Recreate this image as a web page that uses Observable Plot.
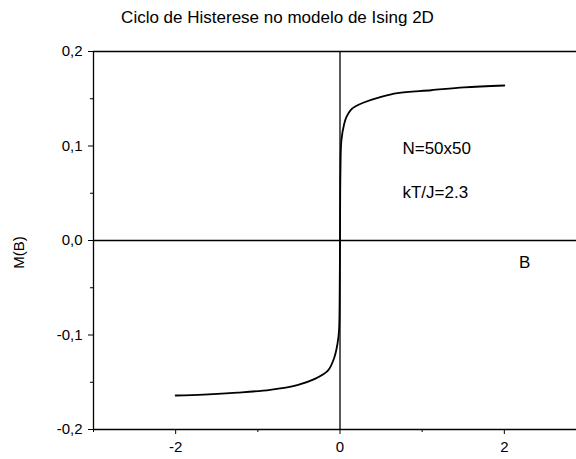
<!DOCTYPE html>
<html>
<head>
<meta charset="utf-8">
<script src="https://cdn.jsdelivr.net/npm/d3@7"></script>
<script src="https://cdn.jsdelivr.net/npm/@observablehq/plot@0.6"></script>
<style>
  html, body { margin: 0; padding: 0; background: #fff; overflow: hidden; }
  #wrap { position: relative; width: 576px; height: 459px; overflow: hidden; font-family: "Liberation Sans", Arial, sans-serif; }
  #title { position: absolute; left: 0; top: 9px; width: 555px; text-align: center; font-size: 17px; color: #000; line-height: 1; }
  #chart { position: absolute; left: 0; top: 0; width: 586px; }
  #chart svg { max-width: none !important; }
  #chart g[aria-label$="tick label"] text { font-size: 15px; }
</style>
</head>
<body>
<div id="wrap">
  <div id="chart"></div>
  <div id="title">Ciclo de Histerese no modelo de Ising 2D</div>
</div>
<script>
const B = [-2, -1.66, -1.25, -0.85, -0.52, -0.32, -0.15, -0.07, -0.03, -0.012, -0.005, 0, 0.005, 0.017, 0.05, 0.08, 0.13, 0.19, 0.29, 0.5, 0.7, 1.11, 1.51, 2.0];
const M = [-0.164, -0.163, -0.161, -0.158, -0.153, -0.147, -0.138, -0.124, -0.109, -0.095, -0.07, 0, 0.07, 0.106, 0.123, 0.131, 0.138, 0.142, 0.146, 0.152, 0.156, 0.159, 0.162, 0.164];
const xMajor = [-2, 0, 2];
const xMinor = [-3, -1, 1, 3];
const yMajor = [-0.2, -0.1, 0, 0.1, 0.2];
const yMinor = [-0.15, -0.05, 0.05, 0.15];
const notes = [
  {x: 0.76, y: 0.097, text: "N=50x50"},
  {x: 0.76, y: 0.051, text: "kT/J=2.3"},
  {x: 2.18, y: -0.023, text: "B"}
];
const yLabel = [{y: -0.03, text: "M(B)"}];

const data = B.map((b, i) => ({B: b, M: M[i]}));
const fmt = d => d3.format(".1f")(d).replace("−", "-").replace(".", ",");

const chart = Plot.plot({
  width: 586,
  height: 459,
  marginLeft: 93,
  marginRight: 0,
  marginTop: 51,
  marginBottom: 30,
  style: {fontFamily: "Liberation Sans, Arial, sans-serif", fontSize: "15px", color: "#000", background: "transparent", overflow: "visible", maxWidth: "none"},
  x: {domain: [-3, 3]},
  y: {domain: [-0.2, 0.2]},
  marks: [
    Plot.axisY(yMajor, {tickSize: 5, tickPadding: 6, tickFormat: fmt, label: null, fontSize: 15, stroke: "#000"}),
    Plot.axisY(yMinor, {tickSize: 3, tickFormat: () => "", label: null, stroke: "#000"}),
    Plot.axisX(xMajor, {tickSize: 5, tickPadding: 7, tickFormat: d => d3.format("d")(d).replace("−", "-"), label: null, fontSize: 15, stroke: "#000"}),
    Plot.axisX(xMinor, {tickSize: 3, tickFormat: () => "", label: null, stroke: "#000"}),
    Plot.ruleX([-3], {stroke: "#000", strokeWidth: 1.3}),
    Plot.ruleY([-0.2, 0.2], {stroke: "#000", strokeWidth: 1.3}),
    Plot.ruleX([0], {stroke: "#000", strokeWidth: 1.3}),
    Plot.ruleY([0], {stroke: "#000", strokeWidth: 1.3}),
    Plot.line(data, {x: "B", y: "M", stroke: "#000", strokeWidth: 1.8, curve: "catmull-rom"}),
    Plot.text(notes, {x: "x", y: "y", text: "text", textAnchor: "start", fontSize: 17, fill: "#000"}),
    Plot.text(yLabel, {y: "y", text: "text", frameAnchor: "left", dx: -74, rotate: -90, fontSize: 15, fill: "#000"})
  ]
});
document.getElementById("chart").appendChild(chart);
</script>
</body>
</html>
